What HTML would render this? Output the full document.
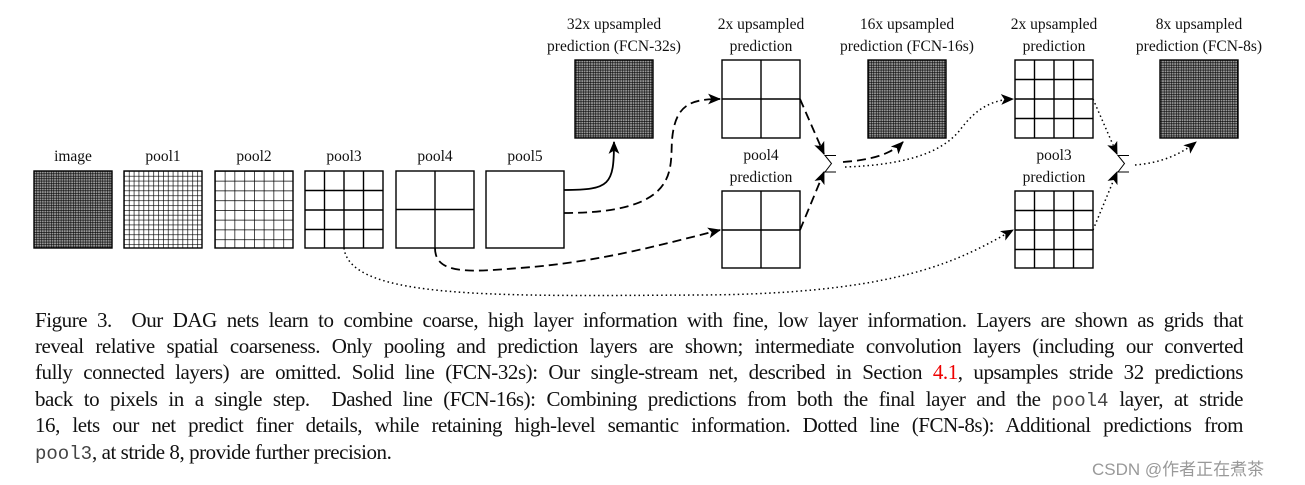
<!DOCTYPE html>
<html><head><meta charset="utf-8"><style>
body{margin:0;background:#fff;width:1305px;height:485px;overflow:hidden;position:relative;font-family:"Liberation Serif",serif}
svg{position:absolute;left:0;top:0}
.cap{position:absolute;left:35px;width:1208px;font-size:21px;color:#111;text-align:justify;text-align-last:justify;white-space:nowrap;letter-spacing:-0.45px}
.cap.last{text-align-last:left}
.m{font-family:"Liberation Mono",monospace;font-size:19px;color:#444;letter-spacing:0}
.r{color:#e00}
.wm{position:absolute;left:1092px;top:455px;font-family:"Liberation Sans","Noto Sans CJK SC",sans-serif;font-size:17px;color:#999}
</style></head><body>
<svg width="1305" height="485" viewBox="0 0 1305 485" font-family="Liberation Serif, serif" font-size="15.5" text-anchor="middle" fill="#111">
<defs>
<marker id="ar" viewBox="0 0 12 10" refX="11" refY="5" markerWidth="13" markerHeight="11" markerUnits="userSpaceOnUse" orient="auto"><path d="M0,0 L12,5 L0,10 L3,5 Z" fill="#000"/></marker>
<pattern id="g32a" patternUnits="userSpaceOnUse" x="34" y="171" width="2.44" height="2.44"><path d="M0,0V2.44M0,0H2.44" stroke="#000" stroke-width="1.1"/></pattern>
<pattern id="g16" patternUnits="userSpaceOnUse" x="124" y="171" width="4.875" height="4.875"><path d="M0,0V4.875M0,0H4.875" stroke="#000" stroke-width="1.3"/></pattern>
<pattern id="g8" patternUnits="userSpaceOnUse" x="215" y="171" width="9.75" height="9.75"><path d="M0,0V9.75M0,0H9.75" stroke="#000" stroke-width="1.4"/></pattern>
<pattern id="gf" patternUnits="userSpaceOnUse" x="0" y="60" width="2.44" height="2.44"><path d="M0,0V2.44M0,0H2.44" stroke="#000" stroke-width="1.1"/></pattern>
</defs>
<g fill="#999">
<rect x="34" y="171" width="78" height="77"/>
<rect x="575" y="60" width="78" height="78"/>
<rect x="868" y="60" width="78" height="78"/>
<rect x="1160" y="60" width="78" height="78"/>
</g>
<g stroke="#000" stroke-width="1.4" fill="none">
<rect x="34" y="171" width="78" height="77" fill="url(#g32a)"/>
<rect x="124" y="171" width="78" height="77" fill="url(#g16)"/>
<rect x="215" y="171" width="78" height="77" fill="url(#g8)"/>
<rect x="305" y="171" width="78" height="77"/>
<path d="M324.5,171V248M344,171V248M363.5,171V248M305,190.5H383M305,210H383M305,229.5H383"/>
<rect x="396" y="171" width="78" height="77"/>
<path d="M435,171V248M396,209.5H474"/>
<rect x="486" y="171" width="78" height="77"/>
<rect x="575" y="60" width="78" height="78" fill="url(#gf)"/>
<rect x="722" y="60" width="78" height="78"/><path d="M761,60V138M722,99H800"/>
<rect x="868" y="60" width="78" height="78" fill="url(#gf)"/>
<rect x="1015" y="60" width="78" height="78"/>
<path d="M1034.5,60V138M1054,60V138M1073.5,60V138M1015,79.5H1093M1015,99H1093M1015,118.5H1093"/>
<rect x="1160" y="60" width="78" height="78" fill="url(#gf)"/>
<rect x="722" y="191" width="78" height="77"/><path d="M761,191V268M722,230H800"/>
<rect x="1015" y="191" width="78" height="77"/>
<path d="M1034.5,191V268M1054,191V268M1073.5,191V268M1015,210.5H1093M1015,230H1093M1015,249.5H1093"/>
</g>
<g stroke="#000" stroke-width="1" fill="none">
<path d="M836,155.5H825L831.5,163.5L825,172H836"/>
<path d="M1129,155.5H1118L1124.5,163.5L1118,172H1129"/>
</g>
<g stroke="#000" stroke-width="1.8" fill="none">
<path d="M564,190 C610,190 614,185 614,142" marker-end="url(#ar)"/>
<g stroke-dasharray="9,5">
<path d="M564,213 C680,213 670,170 672,140 C675,105 690,99 720,99" marker-end="url(#ar)"/>
<path d="M435,248 C435,275 470,272 520,268 C600,262 660,245 720,230" marker-end="url(#ar)"/>
<path d="M800,99 L824,154" marker-end="url(#ar)"/>
<path d="M800,230 L824,172" marker-end="url(#ar)"/>
<path d="M843,162 C870,160 890,155 903,142" marker-end="url(#ar)"/>
</g>
<g stroke-dasharray="1.5,3" stroke-width="1.5">
<path d="M845,167 C900,165 940,155 960,130 C975,110 990,100 1013,99" marker-end="url(#ar)"/>
<path d="M344,248 C350,300 500,296 700,295 C900,294 960,260 1013,230" marker-end="url(#ar)"/>
<path d="M1093,99 L1117,154" marker-end="url(#ar)"/>
<path d="M1093,230 L1117,172" marker-end="url(#ar)"/>
<path d="M1135,165 C1160,163 1180,155 1196,142" marker-end="url(#ar)"/>
</g>
</g>
<g>
<text x="73" y="161">image</text><text x="163" y="161">pool1</text><text x="254" y="161">pool2</text>
<text x="344" y="161">pool3</text><text x="435" y="161">pool4</text><text x="525" y="161">pool5</text>
<text x="614" y="29">32x upsampled</text><text x="614" y="51">prediction (FCN-32s)</text>
<text x="761" y="29">2x upsampled</text><text x="761" y="51">prediction</text>
<text x="907" y="29">16x upsampled</text><text x="907" y="51">prediction (FCN-16s)</text>
<text x="1054" y="29">2x upsampled</text><text x="1054" y="51">prediction</text>
<text x="1199" y="29">8x upsampled</text><text x="1199" y="51">prediction (FCN-8s)</text>
<text x="761" y="160">pool4</text><text x="761" y="182">prediction</text>
<text x="1054" y="160">pool3</text><text x="1054" y="182">prediction</text>
</g>
</svg>
<div class="cap" style="top:308px">Figure 3.&nbsp; Our DAG nets learn to combine coarse, high layer information with fine, low layer information. Layers are shown as grids that</div>
<div class="cap" style="top:334px">reveal relative spatial coarseness. Only pooling and prediction layers are shown; intermediate convolution layers (including our converted</div>
<div class="cap" style="top:360px">fully connected layers) are omitted. Solid line (FCN-32s): Our single-stream net, described in Section <span class="r">4.1</span>, upsamples stride 32 predictions</div>
<div class="cap" style="top:387px">back to pixels in a single step.&nbsp; Dashed line (FCN-16s): Combining predictions from both the final layer and the <span class="m">pool4</span> layer, at stride</div>
<div class="cap" style="top:413px">16, lets our net predict finer details, while retaining high-level semantic information. Dotted line (FCN-8s): Additional predictions from</div>
<div class="cap last" style="top:440px"><span class="m">pool3</span>, at stride 8, provide further precision.</div>
<div class="wm">CSDN @作者正在煮茶</div>
</body></html>
